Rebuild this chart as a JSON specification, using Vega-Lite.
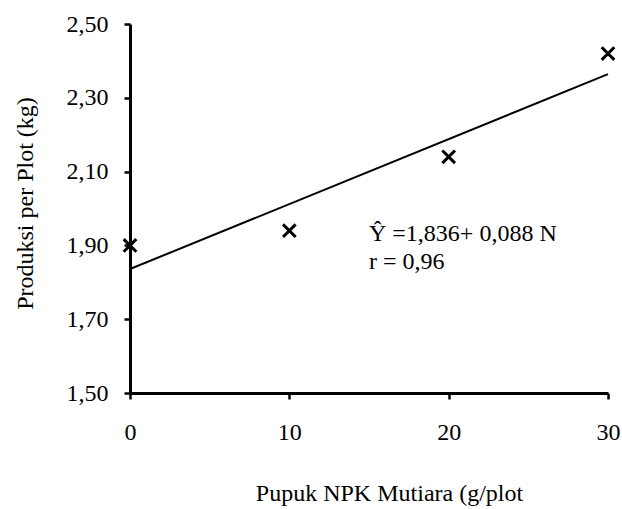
{
  "$schema": "https://vega.github.io/schema/vega-lite/v6.json",
  "width": 478,
  "height": 369,
  "autosize": "none",
  "padding": {"left": 130, "top": 24, "right": 14, "bottom": 116},
  "background": "white",
  "config": {
    "view": {"stroke": null},
    "font": "Liberation Serif",
    "axis": {"grid": false, "domainColor": "black", "tickColor": "black", "labelColor": "black", "titleColor": "black", "labelFont": "Liberation Serif", "titleFont": "Liberation Serif", "labelFontSize": 24, "titleFontSize": 24, "titleFontWeight": "normal", "domainWidth": 3, "tickWidth": 2.5, "tickSize": 6, "labelFlush": false, "labelOverlap": false}
  },
  "datasets": {
    "obs": [
      {"npk": 0, "prod": 1.90},
      {"npk": 10, "prod": 1.94},
      {"npk": 20, "prod": 2.14},
      {"npk": 30, "prod": 2.42}
    ],
    "fit": [
      {"npk": 0, "prod": 1.836},
      {"npk": 30, "prod": 2.364}
    ],
    "note": [
      {"npk": 15, "prod": 1.931, "label": "Ŷ =1,836+ 0,088 N"},
      {"npk": 15, "prod": 1.855, "label": "r = 0,96"}
    ]
  },
  "layer": [
    {
      "data": {"name": "fit"},
      "mark": {"type": "line", "color": "black", "strokeWidth": 2},
      "encoding": {
        "x": {"field": "npk", "type": "quantitative", "scale": {"domain": [0, 30], "nice": false},
          "axis": {"values": [0, 10, 20, 30], "title": "Pupuk NPK Mutiara (g/plot", "labelPadding": 21, "titleX": 259, "titleY": 100, "titleBaseline": "middle", "titleAlign": "center"}},
        "y": {"field": "prod", "type": "quantitative", "scale": {"domain": [1.5, 2.5], "nice": false, "zero": false},
          "axis": {"values": [1.5, 1.7, 1.9, 2.1, 2.3, 2.5], "labelExpr": "replace(format(datum.value, '.2f'), '.', ',')", "title": "Produksi per Plot (kg)", "labelPadding": 16, "titleX": -105, "titleY": 179, "titleBaseline": "middle", "titleAlign": "center", "titleAngle": -90}}
      }
    },
    {
      "data": {"name": "obs"},
      "mark": {"type": "point", "shape": "M-1,-1L1,1M1,-1L-1,1", "size": 160, "stroke": "black", "strokeWidth": 3, "filled": false, "opacity": 1},
      "encoding": {
        "x": {"field": "npk", "type": "quantitative"},
        "y": {"field": "prod", "type": "quantitative"}
      }
    },
    {
      "data": {"name": "note"},
      "mark": {"type": "text", "align": "left", "baseline": "middle", "fontSize": 24, "font": "Liberation Serif", "color": "black"},
      "encoding": {
        "x": {"field": "npk", "type": "quantitative"},
        "y": {"field": "prod", "type": "quantitative"},
        "text": {"field": "label"}
      }
    }
  ]
}
